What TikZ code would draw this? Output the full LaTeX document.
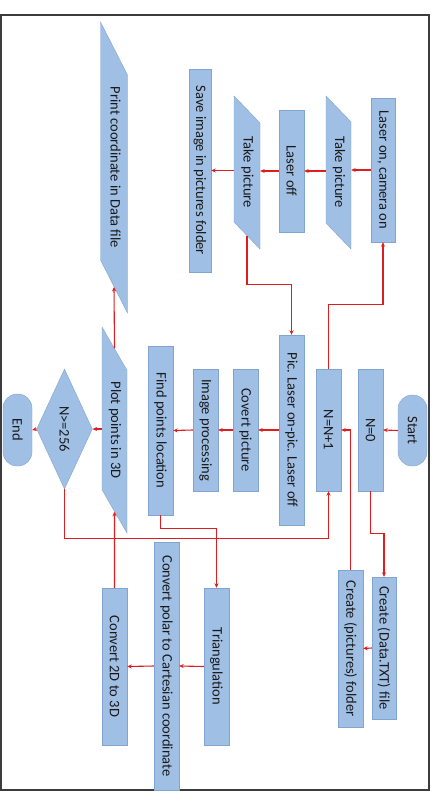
\documentclass[tikz,border=0pt]{standalone}
\usepackage{fontspec}
\setmainfont{Carlito}
\usetikzlibrary{shapes.geometric,arrows.meta}
\definecolor{boxblue}{RGB}{160,191,228}
\definecolor{boxedge}{RGB}{130,164,208}
\definecolor{flowred}{RGB}{222,30,30}
\definecolor{framegray}{RGB}{60,60,60}

\begin{document}
\begin{tikzpicture}[x=1pt,y=-1pt,
    blk/.style={draw=boxedge, fill=boxblue, rotate=-90, inner sep=0pt,
                text=black!90, font=\fontsize{14.5}{16}\selectfont},
    proc/.style={blk, rectangle, minimum height=25pt},
    term/.style={blk, rectangle, rounded corners=14pt, minimum height=29pt},
    io/.style={blk, trapezium, trapezium stretches body,
               text height=10.5pt, text depth=3.5pt, inner ysep=#1},
    arr/.style={draw=flowred, line width=1.1pt, -{Stealth[length=4.5pt,width=4pt]}}]
  \useasboundingbox (0,0) rectangle (434,792);
  \draw[framegray, line width=1.5pt] (1,15) rectangle (429,790);

  %% start column
  \node[term, minimum width=71pt] (start) at (412.5,430.5) {Start};
  \node[proc, minimum width=122pt] (nzero) at (370.5,430) {N=0};
  \node[proc, minimum width=122pt] (ninc) at (328.5,430) {N=N+1};
  \node[proc, minimum width=190pt] (pic) at (291.5,430) {Pic. Laser on-pic. Laser off};
  \node[proc, minimum width=122pt] (covert) at (245.5,430) {Covert picture};
  \node[proc, minimum width=122pt] (improc) at (205.5,430) {Image processing};
  \node[proc, minimum width=169pt] (findpts) at (160.5,430.5) {Find points location};
  \node[io=5.5pt, minimum width=206pt,
        trapezium left angle=30, trapezium right angle=150] (plot) at (114.5,430) {Plot points in 3D};
  \node[blk, diamond, minimum width=120pt, minimum height=39pt] (check) at (64.5,429) {N>=256};
  \node[term, minimum width=72pt] (finish) at (17.5,430) {End};

  %% picture taking
  \node[proc, minimum width=144pt, minimum height=24pt] (laseron) at (383,170) {Laser on, camera on};
  \node[io=5.5pt, minimum width=153pt,
        trapezium left angle=44, trapezium right angle=136] (takeone) at (338.5,172.5) {Take picture};
  \node[proc, minimum width=122pt] (laseroff) at (291.5,171) {Laser off};
  \node[io=6pt, minimum width=153pt,
        trapezium left angle=44, trapezium right angle=136] (taketwo) at (247,172.5) {Take picture};
  \node[proc, minimum width=203pt, minimum height=22pt] (save) at (200,170.5) {Save image in pictures folder};
  \node[io=6.5pt, minimum width=291pt,
        trapezium left angle=27, trapezium right angle=153] (print) at (114,167.5) {Print coordinate in Data file};

  %% lower part
  \node[proc, minimum width=142pt, minimum height=24pt] (mkdata) at (384,648) {Create (Data.TXT) file};
  \node[proc, minimum width=157pt] (mkpics) at (350.5,648.5) {Create (pictures) folder};
  \node[proc, minimum width=157pt] (triang) at (216.5,666.5) {Triangulation};
  \node[proc, minimum width=248pt] (polar) at (166.5,666) {Convert polar to Cartesian coordinate};
  \node[proc, minimum width=157pt] (conv) at (114.5,666.5) {Convert 2D to 3D};

  %% connectors
  \draw[arr] (start.south) -- (nzero.north);
  \draw[arr] (nzero.east) -- ++(0,42) -| (mkdata.west);
  \draw[arr] (mkdata.south) -- (mkpics.north);
  \draw[arr] (mkpics.west) |- (ninc.north);
  \draw[arr] (ninc.west) -- ++(0,-64) -| (laseron.east);
  \draw[arr] (laseron.south) -- (laseron.south -| takeone.north);
  \draw[arr] (takeone.south |- laseroff.north) -- (laseroff.north);
  \draw[arr] (laseroff.south) -- (laseroff.south -| taketwo.north);
  \draw[arr] (taketwo.south |- save.north) -- (save.north);
  \draw[arr] (taketwo.east) -- ++(0,49) -| (pic.west);
  \draw[arr] (pic.south) -- (covert.north);
  \draw[arr] (covert.south) -- (improc.north);
  \draw[arr] (improc.south) -- (findpts.north);
  \draw[arr] (findpts.east) -- ++(0,13) -| (triang.west);
  \draw[arr] (triang.south) -- (polar.north);
  \draw[arr] (polar.south) -- (conv.north);
  \draw[arr] (conv.west) -- (plot.east);
  \draw[arr] (plot.west) -- (print.east);
  \draw[arr] (plot.south |- check.north) -- (check.north);
  \draw[arr] (check.south) -- (finish.north);
  \draw[arr] (check.east) -- ++(0,49) -| (ninc.east);
\end{tikzpicture}
\end{document}
